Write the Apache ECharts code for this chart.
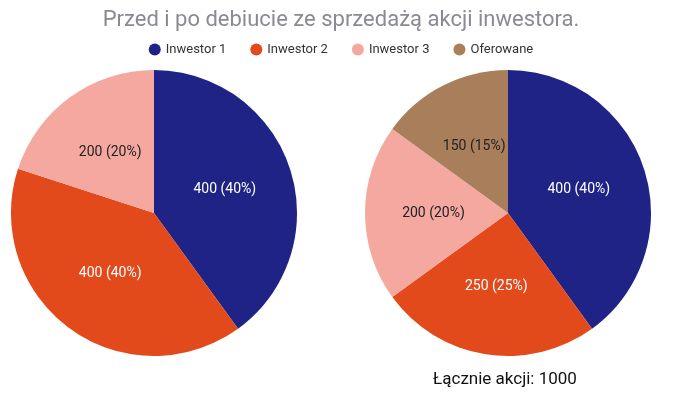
<!DOCTYPE html>
<html><head><meta charset="utf-8">
<script src="https://cdn.jsdelivr.net/npm/echarts@6/dist/echarts.min.js"></script>
<style>html,body{margin:0;padding:0;background:#fff}#c{width:682px;height:406px}</style>
</head><body><div id="c"></div>
<script>
const names = ['Inwestor 1', 'Inwestor 2', 'Inwestor 3', 'Oferowane'];
const colors = ['#1e2385', '#e2491b', '#f4a8a0', '#a97f5b'];
const before = [400, 400, 200];
const after = [400, 250, 200, 150];
const labelColors = ['#fff', '#fff', '#222', '#222'];

const chart = echarts.init(document.getElementById('c'));

function pieData(vals) {
    return vals.map((v, i) => ({
        name: names[i], value: v,
        itemStyle: { color: colors[i] },
        label: { color: labelColors[i] }
    }));
}

const total = after.reduce((a, b) => a + b, 0);
const baseSeries = {
    type: 'pie', radius: [0, 143], startAngle: 90, clockwise: true,
    label: {
        position: 'inside', fontSize: 14, fontFamily: 'Roboto',
        formatter: p => p.value + ' (' + Math.round(p.percent) + '%)'
    },
    labelLine: { show: false }, emphasis: { disabled: true },
    itemStyle: { borderWidth: 0 }
};

chart.setOption({
    animation: false,
    title: [
        { text: 'Przed i po debiucie ze sprzedażą akcji inwestora.', left: 'center', top: 4,
          textStyle: { color: '#8a8a93', fontSize: 22, fontWeight: 'normal', fontFamily: 'Roboto' } },
        { text: 'Łącznie akcji: ' + total, left: 500, top: 366, textAlign: 'center',
          textStyle: { color: '#111', fontSize: 17, fontWeight: 'normal', fontFamily: 'Roboto' } }
    ],
    legend: {
        top: 38, left: 'center', icon: 'circle', itemWidth: 12, itemHeight: 12, itemGap: 24,
        data: names, textStyle: { color: '#333', fontSize: 13, fontFamily: 'Roboto' }
    },
    series: [
        Object.assign({}, baseSeries, { center: [154, 213], data: pieData(before) }),
        Object.assign({}, baseSeries, { center: [508, 213], data: pieData(after) })
    ]
});
</script></body></html>
